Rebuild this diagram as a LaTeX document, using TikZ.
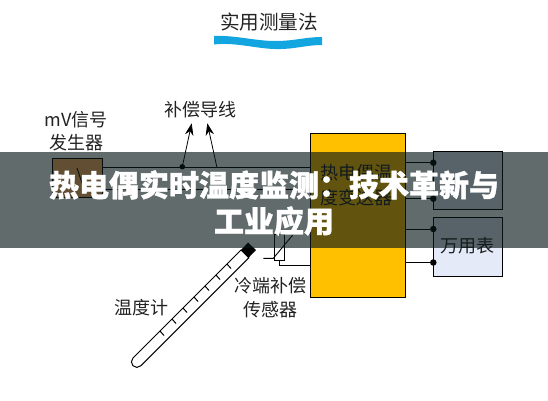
\documentclass[tikz,border=0pt]{standalone}
\usepackage{fontspec}
\usepackage{xcolor}
\setmainfont{Noto Sans CJK SC}[BoldFeatures={FakeBold=1.2}]
\usetikzlibrary{arrows.meta, positioning, calc}
\definecolor{meterYellow}{HTML}{FFC000}
\definecolor{sourceBrown}{HTML}{FFAE62}
\definecolor{meterBlue}{HTML}{E4EAF8}
\definecolor{waveBlue}{HTML}{12A5E0}
\definecolor{bannerGrey}{HTML}{0A1819}
\definecolor{labelInk}{HTML}{222222}
\begin{document}
\begin{tikzpicture}[x=1pt, y=-1pt,
  wire/.style={line width=0.9pt},
  box/.style={draw=black, line width=1pt},
  a/.style={-{Stealth[length=12pt,width=8.5pt]}, line width=0.8pt},
  dot/.style={circle, fill=black, inner sep=0pt, minimum size=6.5pt},
  tag/.style={align=center, inner sep=0pt, text=labelInk, font=\fontsize{18}{23.4}\selectfont},
  banner/.style={align=center, inner sep=0pt, text=white, font=\fontsize{30}{36}\selectfont\bfseries}
]
\useasboundingbox (0,0) rectangle (548,400);
% title
\node[tag, font=\fontsize{19.6}{23}\selectfont] (title) at (269,22.5) {实用测量法};
\fill[waveBlue] (214,36) .. controls (235,35) and (255,41) .. (275,41) .. controls (295,41) and (305,37) .. (322,37)
  -- (322,45) .. controls (305,45) and (295,49.5) .. (275,49) .. controls (255,48.5) and (235,42) .. (214,44.5) -- cycle;
% source
\node[tag] (srclabel) at (76,131) {mV信号\\发生器};
\node[box, fill=sourceBrown, minimum width=50pt, minimum height=38.5pt, anchor=north west] (source) at (51.7,158) {};
\draw[wire] (77,168) -- (83,186);
% main unit
\node[box, fill=meterYellow, minimum width=95.5pt, minimum height=164.6pt, anchor=north west] (unit) at (309.7,132.7) {};
\node[tag, font=\fontsize{18}{25}\selectfont] (unitlabel) at (356.5,185.5) {热电偶温\\度变送器};
% output boxes
\node[box, fill=meterBlue, minimum width=68.5pt, minimum height=58.5pt, anchor=north west] (upper) at (433.2,150.7) {};
\node[box, fill=meterBlue, minimum width=68.8pt, minimum height=58.7pt, anchor=north west] (meter) at (432.9,217) {};
\node[tag] (meterlabel) at (467,246) {万用表};
\node[dot] (u1) at (433.3,162.7) {};
\node[dot] (u2) at (433.3,198.7) {};
\node[dot] (m1) at (433.3,229) {};
\node[dot] (m2) at (433.3,262.5) {};
\draw[wire] (u1) -- (u1 -| unit.east);
\draw[wire] (u2) -- (u2 -| unit.east);
\draw[wire] (m1) -- (m1 -| unit.east);
\draw[wire] (m2) -- (m2 -| unit.east);
% compensation wires
\coordinate (w1) at (source.east |- 0,167.7);
\coordinate (w2) at (source.east |- 0,189);
\draw[wire] (w1) -- (w1 -| unit.west);
\draw[wire] (w2) -- (w2 -| unit.west);
\node[tag] (wirelabel) at (200.7,110) {补偿导线};
\node[dot, minimum size=5.5pt] (wd) at (182.3,166.7) {};
\coordinate (wb) at (217,167.7);
\coordinate (t1) at (191.7,123.3);
\coordinate (t2) at (207.3,123.3);
\draw[a] (wd) -- (t1);
\draw[a] (wb) -- (t2);
% cold junction sensor
\node[draw=black, line width=0.8pt, fill=white, minimum width=9.7pt, minimum height=25.7pt, inner sep=0pt, anchor=north west] (sensor) at (274.3,234.3) {};
\draw[wire] (263.3,258.3) -- (273.3,258.3) -- (292.7,235);
\coordinate (sj) at (unit.west |- 0,265.7);
\coordinate (st) at (sensor.north |- 0,229);
\draw[wire] (sensor.south) |- (sj);
\draw[wire] (sensor.north) -- (st);
\node[tag] (sensorlabel) at (270,297.7) {冷端补偿\\传感器};
% thermometer
\node[tag] (thermolabel) at (141.3,307.3) {温度计};
\draw[line width=1pt, fill=white] (241,250) -- (133,358) arc[start angle=135, end angle=315, radius=5.5pt] -- (248.8,257.8) -- cycle;
\fill[black] (248,242.5) -- (256,250) -- (248.5,257.8) -- (241,250) -- cycle;
\foreach \tx/\ty in {160/331,172/319,183/308,194/297,205/286,216/275,227/264}
  \draw[line width=1pt] (\tx,\ty) -- ++(4,4.5);
% overlay
\fill[bannerGrey, opacity=0.64] (0,152) rectangle (548,248);
\node[banner] (headline) at (274,203) {热电偶实时温度监测：技术革新与\\工业应用};
\end{tikzpicture}
\end{document}
